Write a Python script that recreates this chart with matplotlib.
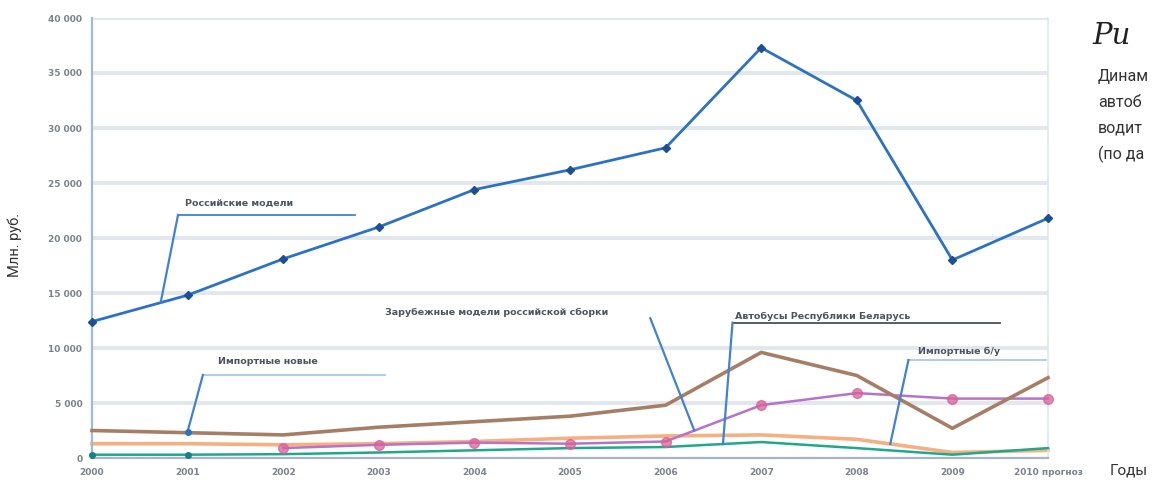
import matplotlib
matplotlib.use("Agg")
import matplotlib.pyplot as plt
import numpy as np

years = ['2000', '2001', '2002', '2003', '2004', '2005', '2006', '2007', '2008', '2009', '2010 прогноз']
russian = [12400, 14800, 18100, 21000, 24400, 26200, 28200, 37300, 32500, 18000, 21800]
imported_new = [2500, 2300, 2100, 2800, 3300, 3800, 4800, 9600, 7500, 2700, 7300]
foreign_assembly = [np.nan, np.nan, 900, 1200, 1400, 1300, 1500, 4800, 5900, 5400, 5400]
imported_used = [1300, 1300, 1200, 1300, 1500, 1800, 2000, 2100, 1700, 500, 700]
belarus = [300, 300, 350, 500, 700, 900, 1000, 1450, 900, 300, 900]
yticks = [0, 5000, 10000, 15000, 20000, 25000, 30000, 35000, 40000]
ytick_labels = ['0', '5 000', '10 000', '15 000', '20 000', '25 000', '30 000', '35 000', '40 000']

W, H = 1153, 486
fig = plt.figure(figsize=(W / 100, H / 100), dpi=100)
fig.patch.set_facecolor('white')
ax = fig.add_axes([92 / W, 1 - 458 / H, (1048 - 92) / W, (458 - 18) / H])
x = np.arange(len(years))

ax.set_xlim(0, len(years) - 1)
ax.set_ylim(0, 40000)
ax.set_yticks(yticks)
ax.set_yticklabels(ytick_labels, color='#7a828c', fontsize=6.5, fontweight='bold')
ax.set_xticks(x)
ax.set_xticklabels(years, color='#7a828c', fontsize=6.5, fontweight='bold')
ax.tick_params(axis='both', length=0, pad=7)
for yv in yticks[1:]:
    ax.axhline(yv, color='#e2e7ee', lw=2.8, zorder=0)
ax.spines['top'].set_visible(False)
ax.spines['left'].set_color('#9dbad8')
ax.spines['left'].set_linewidth(1.6)
ax.spines['right'].set_color('#dfe6ef')
ax.spines['right'].set_linewidth(1.2)
ax.spines['bottom'].set_color('#aab4c2')
ax.spines['bottom'].set_linewidth(1.6)

ax.plot(x, belarus, color='#1fa88c', lw=1.8, zorder=3, clip_on=False)
ax.plot(x[:2], belarus[:2], 'o', color='#13808a', ms=4, zorder=4, clip_on=False)
ax.plot(x, imported_used, color='#f6a673', lw=2.6, alpha=0.9, zorder=2, clip_on=False)
ax.plot(x, foreign_assembly, color='#b772cc', lw=1.8, zorder=3, clip_on=False)
ax.plot(x, foreign_assembly, 'o', color='#d8609a', ms=7, alpha=0.75, zorder=4, clip_on=False)
ax.plot(x, imported_new, color='#a67e66', lw=2.6, zorder=3, clip_on=False)
ax.plot(x, russian, color='#2b72c4', lw=2.0, zorder=5, clip_on=False)
ax.plot(x, russian, 'D', color='#1d4f98', ms=4.5, zorder=6, clip_on=False)

lc = '#3f82d6'
tc = '#4d5560'
fs = 6.8

def callout(text, tx, ty, sx, sy, ex, ey, ux1=None, ucol=lc):
    if ux1 is not None:
        ax.plot([sx, ux1], [sy, sy], color=ucol, lw=1.3, zorder=7, clip_on=False)
    ax.plot([sx, ex], [sy, ey], color=lc, lw=1.6, zorder=7, clip_on=False)
    ax.text(tx, ty, text, fontsize=fs, color=tc, fontweight='bold', va='center', ha='left', zorder=8)

callout('Российские модели', 0.97, 23100, 0.90, 22100, 0.72, 14200, ux1=2.75)
callout('Зарубежные модели российской сборки', 3.06, 13200, 5.84, 12700, 6.3, 2500)
callout('Автобусы Республики Беларусь', 6.73, 12900, 6.70, 12300, 6.6, 1270, ux1=9.5, ucol='#4a4f58')
callout('Импортные новые', 1.32, 8750, 1.16, 7550, 1.0, 2400, ux1=3.06, ucol='#a9c8ec')
callout('Импортные б/у', 8.64, 9650, 8.54, 8900, 8.35, 1280, ux1=9.98, ucol='#a9c8ec')
ax.plot(1.0, 2400, 'o', color='#2b72c4', ms=4, zorder=8)

fig.text(15 / W, 1 - 245 / H, 'Млн. руб.', rotation=90, fontsize=10.5, color='#333333',
         ha='center', va='center', family='Roboto')
fig.text(1110 / W, 1 - 470 / H, 'Годы', fontsize=11, color='#333333', ha='left', va='center',
         family='Roboto')
fig.text(1092 / W, 1 - 36 / H, 'Ри', fontsize=21, color='#222222', style='italic',
         family='DejaVu Serif', ha='left', va='center')
rlines = ['Динам', 'автоб', 'водит', '(по да']
for i, t in enumerate(rlines):
    fig.text(1098 / W, 1 - (76 + 26 * i) / H, t, fontsize=11.5, color='#333333',
             family='Roboto', ha='left', va='center')

fig.savefig('out.png', dpi=100, facecolor='white')
